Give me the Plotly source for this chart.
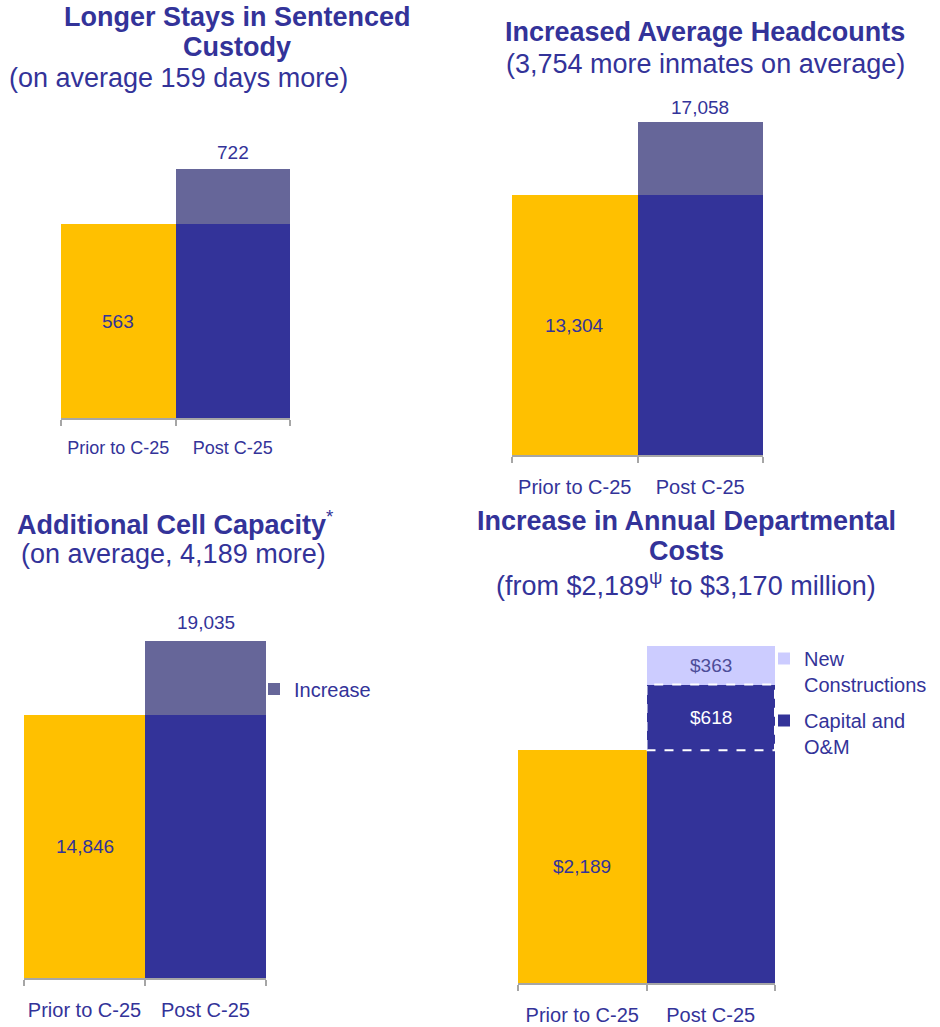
import plotly.graph_objects as go

# ---------------- data ----------------
categories = ["Prior to C-25", "Post C-25"]
stay_days = [563, 722]                 # days in sentenced custody
headcounts = [13304, 17058]            # average headcounts
cell_capacity = [14846, 19035]         # cell capacity
cost_prior = [2189]                    # $ million, prior
cost_capital_om = [618]                # $ million, capital and O&M increase
cost_new_constr = [363]                # $ million, new constructions

# ---------------- styling ----------------
W, H = 940, 1027
YELLOW = "#FFC000"
BLUE = "#333399"
INCR = "#666699"
LIGHT = "#CCCCFF"
TXT = "#333399"
FONT = "Arial, Liberation Sans, sans-serif"
AXGRAY = "#A6A6A6"


def px_x(x):
    return x / W


def px_y(y):
    return 1 - y / H


fig = go.Figure()

# panel geometry: (x-left px, x-right px, baseline px, top px, px per unit)
panels = {
    1: (61, 290, 418, 100, 194 / 563),
    2: (512, 763, 455, 100, 260 / 13304),
    3: (24, 266, 978, 600, 263 / 14846),
    4: (518, 775, 983, 620, 337 / 3170),
}

# ---- panels 1-3: prior (yellow) / post base (blue) + increase ----
series = {1: stay_days, 2: headcounts, 3: cell_capacity}
for p, vals in series.items():
    ax = "" if p == 1 else str(p)
    prior, post = vals
    fig.add_trace(go.Bar(
        x=categories, y=[prior, prior], marker_color=[YELLOW, BLUE],
        marker_line_width=0, showlegend=False, hoverinfo="skip",
        xaxis="x" + ax, yaxis="y" + ax,
    ))
    fig.add_trace(go.Bar(
        x=[categories[1]], y=[post - prior], marker_color=INCR,
        marker_line_width=0, name="Increase", showlegend=(p == 3),
        legend="legend", xaxis="x" + ax, yaxis="y" + ax,
    ))

# ---- panel 4: costs ----
fig.add_trace(go.Bar(
    x=categories, y=[cost_prior[0], cost_prior[0]], marker_color=[YELLOW, BLUE],
    marker_line_width=0, showlegend=False, xaxis="x4", yaxis="y4",
))
fig.add_trace(go.Bar(
    x=[categories[1]], y=cost_capital_om, marker_color=BLUE, marker_line_width=0,
    name="Capital and<br>O&M", legend="legend2", legendgroup="cap", legendrank=2,
    xaxis="x4", yaxis="y4",
))
fig.add_trace(go.Bar(
    x=[categories[1]], y=cost_new_constr, marker_color=LIGHT, marker_line_width=0,
    name="New<br>Constructions", legend="legend2", legendgroup="new", legendrank=1,
    xaxis="x4", yaxis="y4",
))

# ---- axes ----
layout_axes = {}
tick_sizes = {1: 18, 2: 20, 3: 20, 4: 20}
for p, (xl, xr, base, top, ppu) in panels.items():
    ax = "" if p == 1 else str(p)
    layout_axes["xaxis" + ax] = dict(
        domain=[px_x(xl), px_x(xr)], anchor="y" + ax, type="category",
        range=[-0.5, 1.5], showline=True, linecolor=AXGRAY, linewidth=1.5,
        ticks="outside", tickson="boundaries", ticklen=6, tickcolor=AXGRAY,
        tickwidth=1.5, tickangle=0, automargin=False,
        tickfont=dict(family=FONT, size=tick_sizes[p], color=TXT),
        ticklabelstandoff=13, showgrid=False, zeroline=False, fixedrange=True,
    )
    layout_axes["yaxis" + ax] = dict(
        domain=[px_y(base), px_y(top)], anchor="x" + ax, automargin=False,
        range=[0, (base - top) / ppu], visible=False, fixedrange=True,
    )

# ---- annotations: values ----
ann = []
lab_font = dict(family=FONT, size=19, color=TXT)
top_shift = {1: 4, 2: 2, 3: 6}
for p, vals in series.items():
    ax = "" if p == 1 else str(p)
    prior, post = vals
    ann.append(dict(x=categories[0], y=prior / 2, xref="x" + ax, yref="y" + ax,
                    text=f"{prior:,}", showarrow=False, font=lab_font))
    ann.append(dict(x=categories[1], y=post, xref="x" + ax, yref="y" + ax,
                    text=f"{post:,}", showarrow=False, font=lab_font,
                    yanchor="bottom", yshift=top_shift[p]))

ann.append(dict(x=categories[0], y=cost_prior[0] / 2, xref="x4", yref="y4",
                text=f"${cost_prior[0]:,}", showarrow=False, font=lab_font))
ann.append(dict(x=categories[1], y=cost_prior[0] + cost_capital_om[0] / 2,
                xref="x4", yref="y4", text=f"${cost_capital_om[0]:,}", showarrow=False,
                font=dict(family=FONT, size=19, color="white")))
ann.append(dict(x=categories[1],
                y=cost_prior[0] + cost_capital_om[0] + cost_new_constr[0] / 2,
                xref="x4", yref="y4", text=f"${cost_new_constr[0]:,}", showarrow=False,
                font=dict(family=FONT, size=19, color="#4D4D99")))

# ---- titles ----
tfont_b = dict(family=FONT, size=27, color=TXT)
tfont = dict(family=FONT, size=27, color=TXT)
titles = [
    ("<b>Longer Stays in Sentenced</b>", 237, 17, tfont_b),
    ("<b>Custody</b>", 237, 47, tfont_b),
    ("(on average 159 days more)", 178, 78, tfont),
    ("<b>Increased Average Headcounts</b>", 705, 32, tfont_b),
    ("(3,754 more inmates on average)", 705, 64, tfont),
    ("<b>Additional Cell Capacity</b><sup>*</sup>", 175, 523, tfont_b),
    ("(on average, 4,189 more)", 173, 554, tfont),
    ("<b>Increase in Annual Departmental</b>", 686, 521, tfont_b),
    ("<b>Costs</b>", 686, 551, tfont_b),
    ("(from $2,189<sup>ψ</sup> to $3,170 million)", 686, 584, tfont),
]
for text, x, y, f in titles:
    ann.append(dict(text=text, x=px_x(x), y=px_y(y), xref="paper", yref="paper",
                    xanchor="center", yanchor="middle", showarrow=False, font=f))

# ---- dashed border around Capital and O&M segment ----
shapes = [dict(
    type="rect", xref="x4", yref="y4", x0=0.5, x1=1.5,
    y0=cost_prior[0], y1=cost_prior[0] + cost_capital_om[0],
    line=dict(color="white", width=2, dash="dash"), fillcolor="rgba(0,0,0,0)",
)]

fig.update_layout(
    width=W, height=H, margin=dict(l=0, r=0, t=0, b=0, autoexpand=False),
    paper_bgcolor="white", plot_bgcolor="white",
    barmode="stack", bargap=0,
    annotations=ann, shapes=shapes,
    legend=dict(x=px_x(254), y=px_y(689), xanchor="left", yanchor="middle",
                font=dict(family=FONT, size=20, color=TXT), bgcolor="rgba(0,0,0,0)"),
    legend2=dict(x=px_x(764), y=px_y(639), xanchor="left", yanchor="top",
                 traceorder="grouped", valign="top", tracegroupgap=7,
                 font=dict(family=FONT, size=20, color=TXT), bgcolor="rgba(0,0,0,0)"),
    **layout_axes,
)

fig.write_html(
    "out.html",
    config={"displayModeBar": False},
    post_script="document.body.style.margin='0';document.body.style.overflow='hidden';",
)
